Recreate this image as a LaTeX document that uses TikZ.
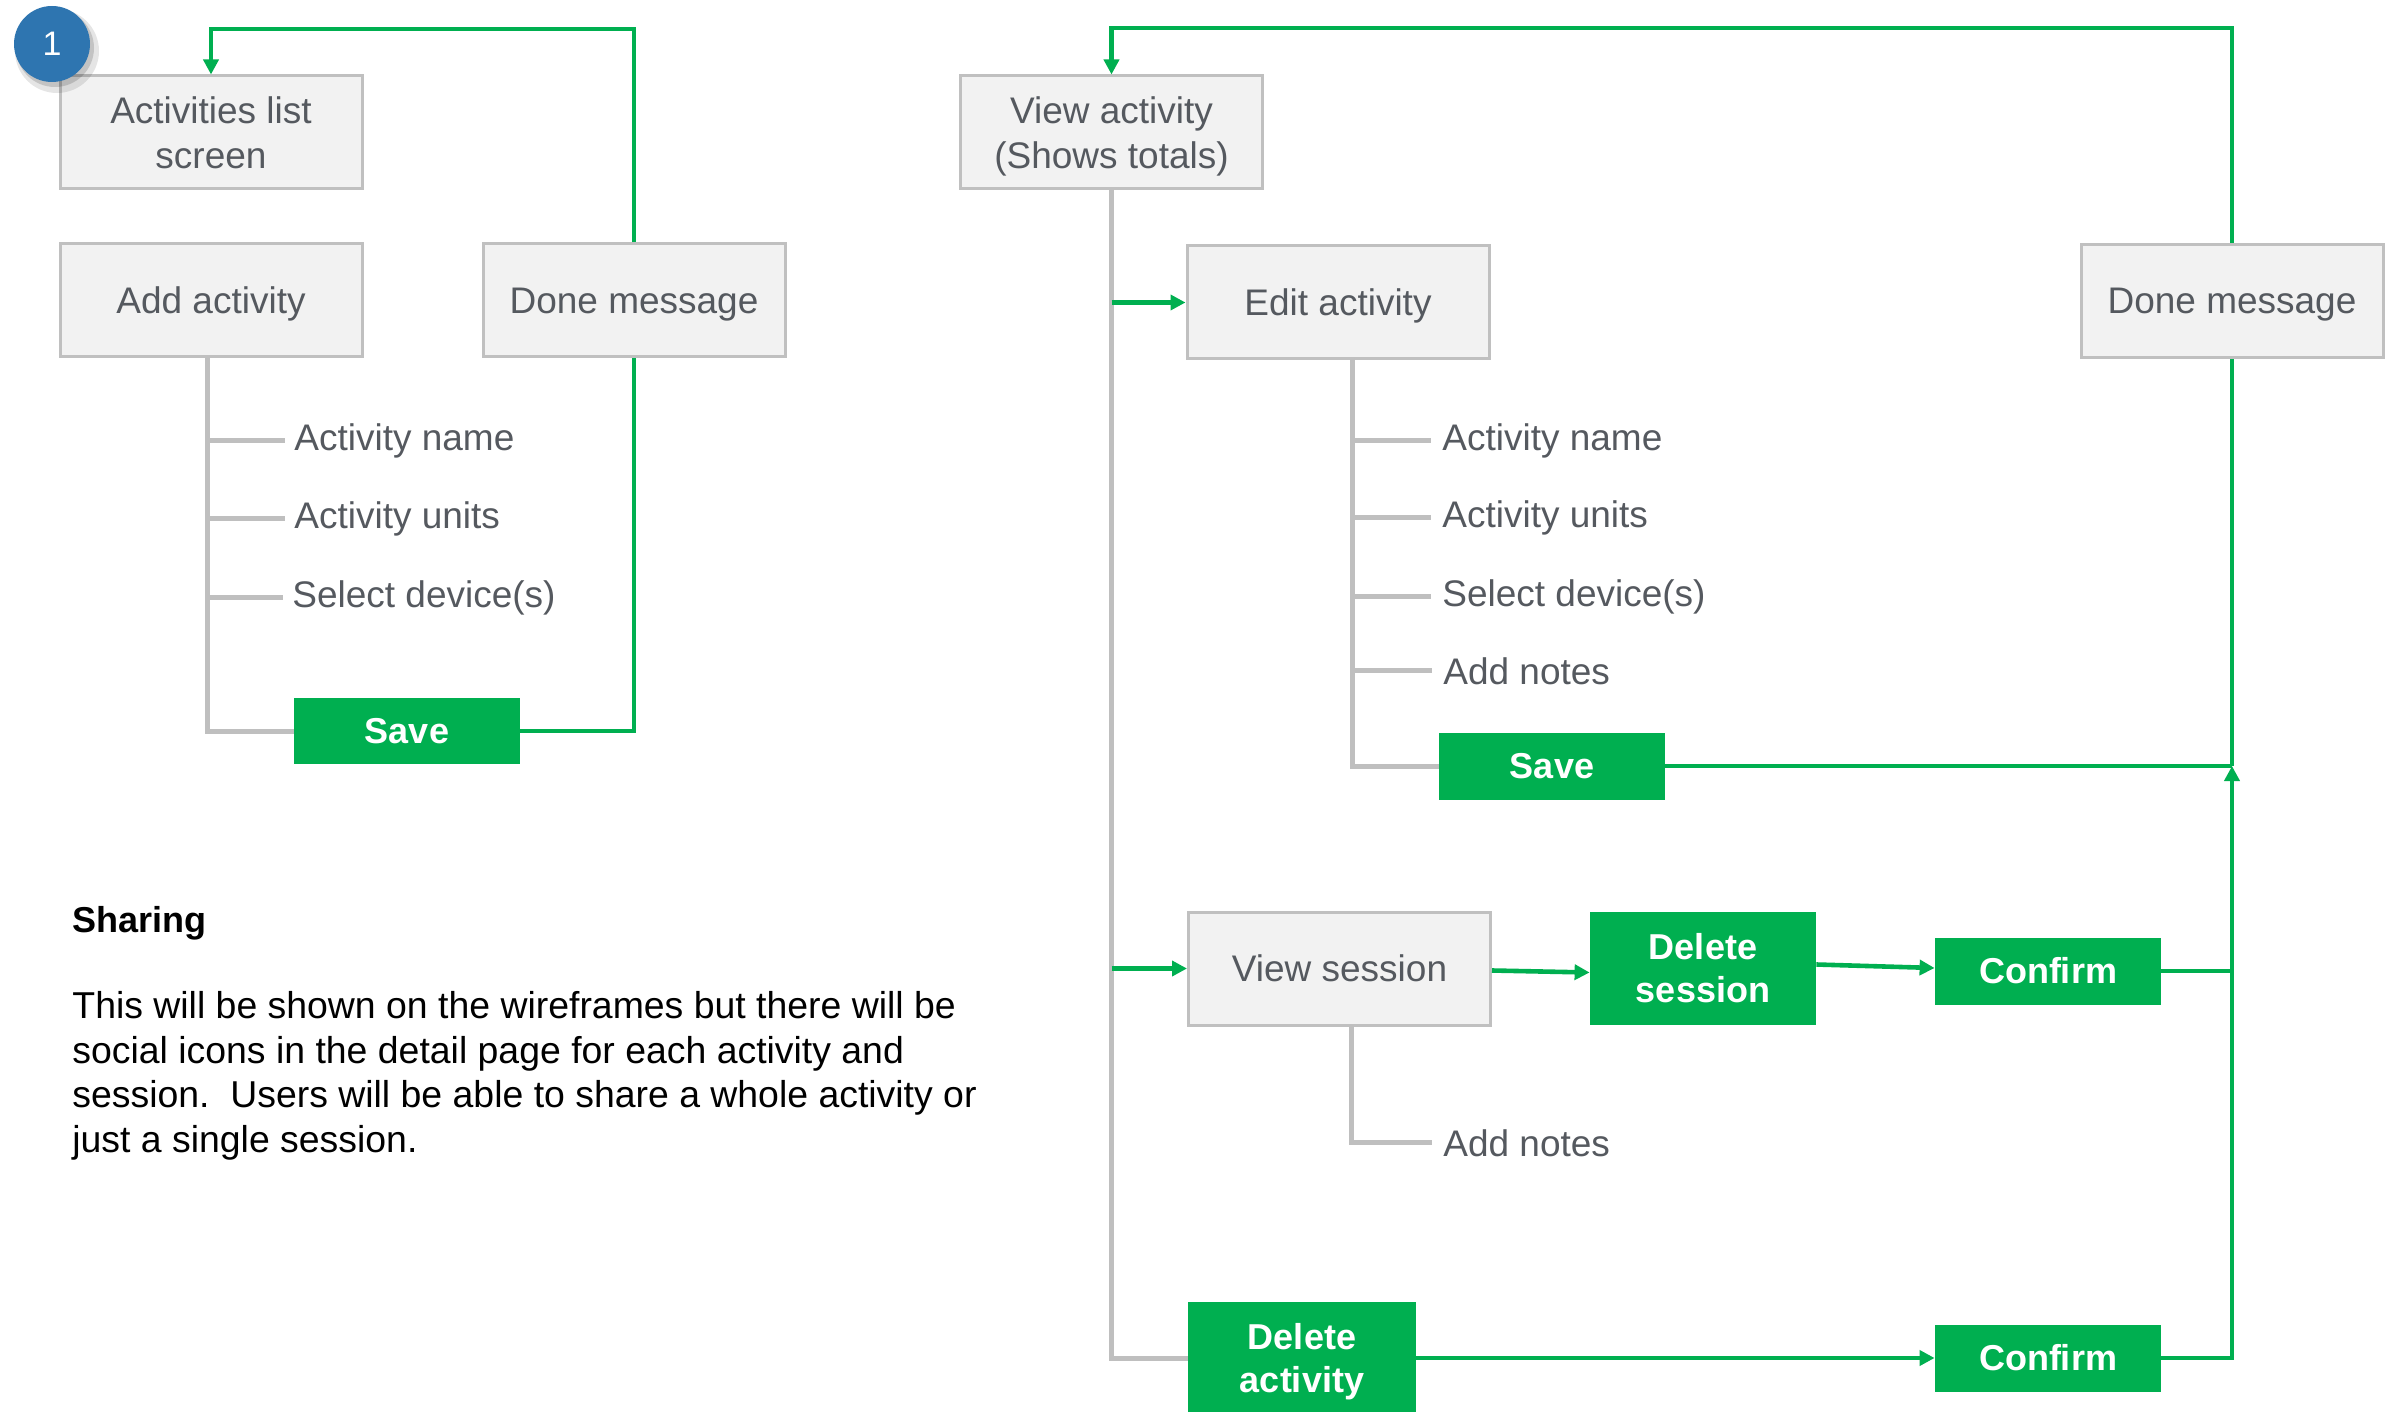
\documentclass[tikz,border=0pt]{standalone}
\usepackage{fontspec}
\setmainfont{Liberation Sans}
\usetikzlibrary{arrows.meta}
\definecolor{boxfill}{HTML}{F2F2F2}
\definecolor{boxline}{HTML}{C0C0C0}
\definecolor{txtgray}{HTML}{55595F}
\definecolor{grayln}{HTML}{BFBFBF}
\definecolor{btnc}{HTML}{00AF50}
\definecolor{badgec}{HTML}{2E75B0}
\newcommand\nodp[1]{\raisebox{0pt}[\height][0pt]{#1}}
\begin{document}
\begin{tikzpicture}[x=0.5pt,y=-0.5pt,
  box/.style={draw=boxline, fill=boxfill, line width=1.5pt, text=txtgray,
    font=\fontsize{18.5}{22.3}\selectfont, align=center, inner sep=0pt,
    minimum width=151pt, minimum height=56.5pt},
  btn/.style={fill=btnc, text=white, font=\fontsize{18}{21.5}\selectfont\bfseries,
    align=center, inner sep=0pt, minimum width=113pt},
  item/.style={anchor=base west, text=txtgray, font=\fontsize{18.5}{22}\selectfont, inner sep=0pt},
  stem/.style={draw=grayln, line width=2.5pt},
  flow/.style={draw=btnc, line width=2.3pt},
  flowarr/.style={flow, -{Triangle[length=7.5pt,width=7.5pt]}},
]
\path[use as bounding box] (0,0) rectangle (2389,1412);

% ---------- left part ----------
\node[box] (act) at (211,132.5) {Activities list\\screen};
\node[box] (add) at (211,300.5) {\nodp{Add activity}};
\node[box] (done1) at (634,300.5) {\nodp{Done message}};
\node[btn, minimum height=33pt] (save1) at (407,731) {Save};
\node[item] (an1) at (294,450) {Activity name};
\node[item] (au1) at (294,528) {Activity units};
\node[item] (sd1) at (292,607) {Select device(s)};
\coordinate (ls) at (207,357);

\draw[stem] (ls) |- (save1.west);
\draw[stem] (ls |- an1.west) -- ([xshift=-4.5pt]an1.west);
\draw[stem] (ls |- au1.west) -- ([xshift=-4.5pt]au1.west);
\draw[stem] (ls |- sd1.west) -- ([xshift=-4.5pt]sd1.west);

\draw[flow] (save1.east) -| (done1.south);
\draw[flowarr] (done1.north) -- (done1.north |- 0,29) -| (act.north);

% badge
\fill[black, opacity=0.10] (57,51) circle (21pt);
\fill[black, opacity=0.15] (55,48) circle (19.5pt);
\node[circle, fill=badgec, minimum size=38pt, inner sep=0pt, text=white,
  font=\fontsize{17}{17}\selectfont] (badge) at (52,44) {1};

% sharing text
\node[anchor=base west, inner sep=0pt, font=\fontsize{18}{22.3}\selectfont\bfseries] (shh) at (72,932) {Sharing};
\node[anchor=north west, inner sep=0pt, align=left, font=\fontsize{18.7}{22.35}\selectfont] (shp) at (72,991)
  {This will be shown on the wireframes but there will be\\
   social icons in the detail page for each activity and\\
   session.\ \ Users will be able to share a whole activity or\\
   just a single session.};

% ---------- right part ----------
\node[box] (view) at (1111.5,132.5) {View activity\\\nodp{(Shows totals)}};
\node[box] (edit) at (1338,302.5) {\nodp{Edit activity}};
\node[box] (done2) at (2232,301) {\nodp{Done message}};
\node[item] (an2) at (1442,450) {Activity name};
\node[item] (au2) at (1442,527) {Activity units};
\node[item] (sd2) at (1442,606) {Select device(s)};
\node[item] (nt2) at (1443,684) {Add notes};
\node[btn, minimum height=33.5pt] (save2) at (1552,766) {Save};
\node[box] (vs) at (1339.5,968.5) {View session};
\node[btn, minimum height=56.5pt] (ds) at (1703,968.5) {Delete\\session};
\node[btn, minimum height=33.5pt] (c1) at (2048,971) {Confirm};
\node[item] (nt3) at (1443,1156) {Add notes};
\node[btn, minimum height=56pt, minimum width=114pt] (da) at (1302,1358) {Delete\\\nodp{activity}};
\node[btn, minimum height=33.5pt] (c2) at (2048,1358) {Confirm};

\coordinate (es) at (1352,359);
\coordinate (vss) at (1351,1025);
\coordinate (j1) at (2232,766);

\draw[stem] (view.south) |- (da.west);
\draw[stem] (es) |- (save2.west);
\draw[stem] (es |- an2.west) -- ([xshift=-5.5pt]an2.west);
\draw[stem] (es |- au2.west) -- ([xshift=-5.5pt]au2.west);
\draw[stem] (es |- sd2.west) -- ([xshift=-5.5pt]sd2.west);
\draw[stem] (es |- nt2.west) -- ([xshift=-5.5pt]nt2.west);
\draw[stem] (vss) |- ([xshift=-5.5pt]nt3.west);

\draw[flowarr] (done2.north) -- (done2.north |- 0,28) -| (view.north);
\draw[flowarr] (view.south |- edit.west) -- (edit.west);
\draw[flowarr] (view.south |- vs.west) -- (vs.west);
\draw[flowarr] ([yshift=-1pt]vs.east) -- ([yshift=-2pt]ds.west);
\draw[flowarr] ([yshift=2pt]ds.east) -- ([yshift=1.5pt]c1.west);
\draw[flowarr] (da.east) -- (c2.west);
\draw[flow] (save2.east) -- (j1);
\draw[flow] (done2.south) -- (j1);
\draw[flowarr] (c2.east) -| (j1);
\draw[flow] (c1.east) -- (c1.east -| j1);
\end{tikzpicture}
\end{document}
